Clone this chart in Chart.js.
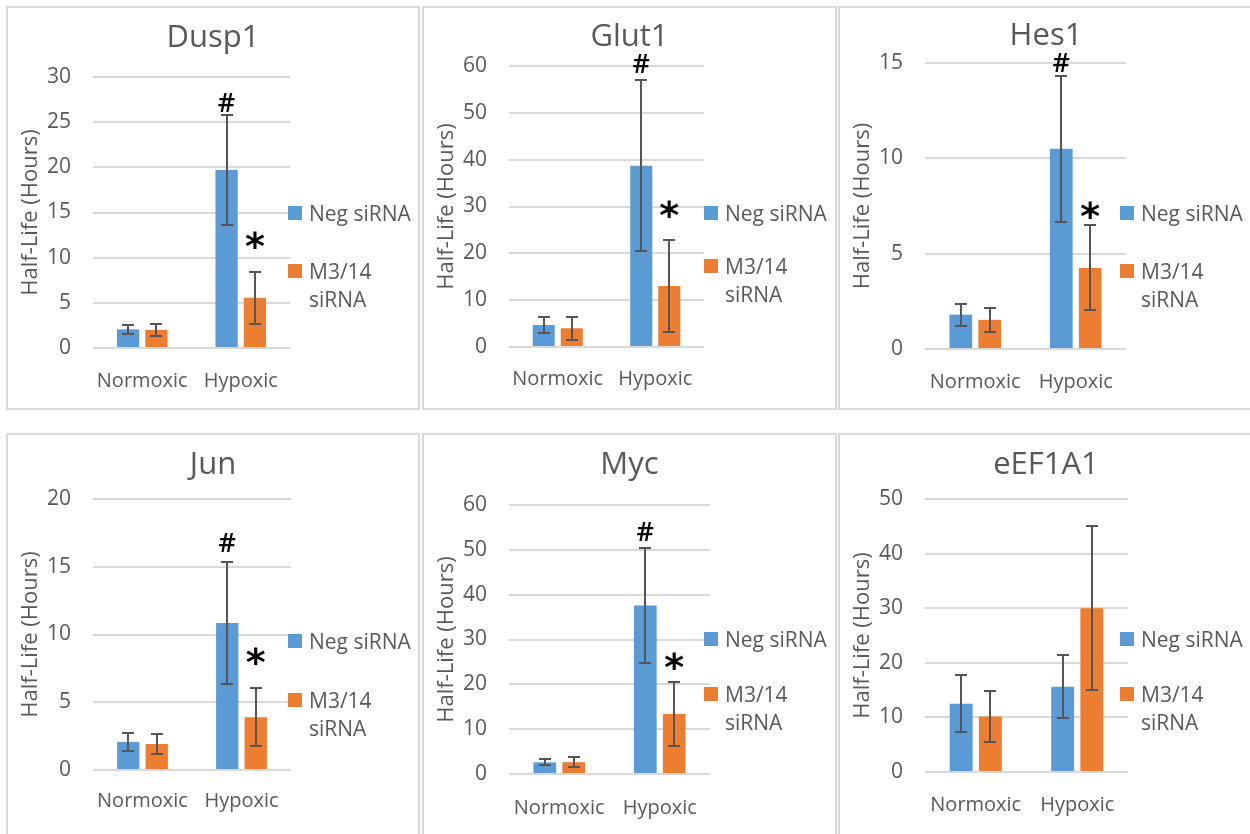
<!DOCTYPE html>
<html>
<head>
<meta charset="utf-8">
<script src="https://cdn.jsdelivr.net/npm/chart.js@4.4.1/dist/chart.umd.min.js"></script>
<style>
  html, body { margin: 0; padding: 0; background: #fff; width: 1250px; height: 834px; overflow: hidden; }
  .panel { position: absolute; border: 2px solid #d9d9d9; box-sizing: content-box; overflow: hidden; }
  .panel canvas { display: block; }
</style>
</head>
<body>
<script>
// ---- data ----
const categories = ['Normoxic', 'Hypoxic'];
const seriesLabels = ['Neg siRNA', 'M3/14 siRNA'];
const geneNames = ['Dusp1', 'Glut1', 'Hes1', 'Jun', 'Myc', 'eEF1A1'];

// mean half-life in hours [Normoxic, Hypoxic] and error-bar half widths
const dusp1Neg = [2.07, 19.7];    const dusp1NegErr = [0.5, 6.1];
const dusp1M314 = [2.0, 5.55];    const dusp1M314Err = [0.68, 2.85];
const glut1Neg = [4.7, 38.7];     const glut1NegErr = [1.8, 18.3];
const glut1M314 = [4.0, 13.0];    const glut1M314Err = [2.4, 9.8];
const hes1Neg = [1.8, 10.5];      const hes1NegErr = [0.58, 3.84];
const hes1M314 = [1.53, 4.25];    const hes1M314Err = [0.63, 2.23];
const junNeg = [2.07, 10.85];     const junNegErr = [0.66, 4.5];
const junM314 = [1.92, 3.9];      const junM314Err = [0.74, 2.12];
const mycNeg = [2.6, 37.6];       const mycNegErr = [0.67, 12.9];
const mycM314 = [2.64, 13.4];     const mycM314Err = [1.15, 7.1];
const eef1a1Neg = [12.5, 15.6];   const eef1a1NegErr = [5.2, 5.75];
const eef1a1M314 = [10.15, 30.0]; const eef1a1M314Err = [4.65, 15.0];

// y-axis ranges (min 0)
const yMax = [30, 60, 15, 20, 60, 50];
const yStep = [5, 10, 5, 5, 10, 10];

// significance symbols shown above the hypoxic bars (series index, or null)
const hashSeries = [0, 0, 0, 0, 0, null];
const starSeries = [1, 1, 1, 1, 1, null];

const negValues = [dusp1Neg, glut1Neg, hes1Neg, junNeg, mycNeg, eef1a1Neg];
const negErrors = [dusp1NegErr, glut1NegErr, hes1NegErr, junNegErr, mycNegErr, eef1a1NegErr];
const m314Values = [dusp1M314, glut1M314, hes1M314, junM314, mycM314, eef1a1M314];
const m314Errors = [dusp1M314Err, glut1M314Err, hes1M314Err, junM314Err, mycM314Err, eef1a1M314Err];

// ---- layout / style ----
const BLUE = '#5B9BD5';
const ORANGE = '#ED7D31';
const TEXT = '#595959';
const GRID = '#d9d9d9';
const FONT = '"Open Sans", "DejaVu Sans", sans-serif';

const frames = [
  { left: 6,   top: 6,   w: 410, h: 400, titleY: 27.5, plotTop: 69, padRight: 128, xAxisH: 60, labelPad: 13, legendY: [205, 263],   gaps: [12, 32] },
  { left: 422, top: 6,   w: 411, h: 400, titleY: 27,   plotTop: 58, padRight: 131, xAxisH: 61, labelPad: 12, legendY: [205, 258],   gaps: [17, 31] },
  { left: 838, top: 6,   w: 412, h: 400, titleY: 26,   plotTop: 55, padRight: 126, xAxisH: 59, labelPad: 13, legendY: [205, 263],   gaps: [13, 15] },
  { left: 6,   top: 433, w: 410, h: 400, titleY: 28,   plotTop: 64, padRight: 127, xAxisH: 65, labelPad: 11, legendY: [206, 264.5], gaps: [20, 32] },
  { left: 422, top: 433, w: 411, h: 400, titleY: 28,   plotTop: 70, padRight: 125, xAxisH: 61, labelPad: 14, legendY: [204, 258.5], gaps: [16, 21] },
  { left: 838, top: 433, w: 412, h: 400, titleY: 28,   plotTop: 64, padRight: 124, xAxisH: 63, labelPad: 13, legendY: [204, 258.5], gaps: [0, 0] }
];

function centeredText(ctx, text, x, cy) {
  const m = ctx.measureText(text);
  const a = m.actualBoundingBoxAscent, d = m.actualBoundingBoxDescent;
  ctx.fillText(text, x, cy + (a - d) / 2);
}

function wrapWords(ctx, text, maxW) {
  const words = text.split(' ');
  const lines = [];
  let cur = '';
  words.forEach(w => {
    const t = cur ? cur + ' ' + w : w;
    if (cur && ctx.measureText(t).width > maxW) { lines.push(cur); cur = w; } else { cur = t; }
  });
  if (cur) lines.push(cur);
  return lines;
}

// panel title, error bars, significance symbols and the side legend
const panelDecor = {
  id: 'panelDecor',
  afterDatasetsDraw(chart, args, opts) {
    const ctx = chart.ctx;
    const y = chart.scales.y;
    ctx.save();

    // title centred over the whole panel
    ctx.fillStyle = TEXT;
    ctx.textAlign = 'center';
    ctx.textBaseline = 'alphabetic';
    ctx.font = '31px ' + FONT;
    const tm = ctx.measureText('D');
    ctx.fillText(opts.title, chart.width / 2, opts.titleY + tm.actualBoundingBoxAscent / 2);

    // error bars
    chart.data.datasets.forEach((ds, i) => {
      const meta = chart.getDatasetMeta(i);
      meta.data.forEach((bar, j) => {
        const v = ds.data[j], e = ds.errors[j];
        const yt = Math.round(y.getPixelForValue(v + e));
        const yb = Math.round(y.getPixelForValue(v - e));
        const x = Math.round(bar.x);
        ctx.strokeStyle = '#555555';
        ctx.lineWidth = 2;
        ctx.beginPath();
        ctx.moveTo(x, yt); ctx.lineTo(x, yb);
        ctx.moveTo(x - 6, yt); ctx.lineTo(x + 6, yt);
        ctx.moveTo(x - 6, yb); ctx.lineTo(x + 6, yb);
        ctx.stroke();
      });
    });

    // symbols
    (opts.marks || []).forEach(mk => {
      if (mk.series === null) return;
      const ds = chart.data.datasets[mk.series];
      const bar = chart.getDatasetMeta(mk.series).data[mk.cat];
      const top = y.getPixelForValue(ds.data[mk.cat] + ds.errors[mk.cat]);
      ctx.fillStyle = '#000';
      ctx.textAlign = 'center';
      ctx.textBaseline = 'alphabetic';
      ctx.font = mk.font;
      centeredText(ctx, mk.text, bar.x, top - mk.gap);
    });

    // legend
    ctx.font = '21px ' + FONT;
    ctx.textAlign = 'left';
    ctx.textBaseline = 'alphabetic';
    const capH = ctx.measureText('N').actualBoundingBoxAscent;
    chart.data.datasets.forEach((ds, i) => {
      const cy = opts.legendY[i];
      ctx.fillStyle = ds.backgroundColor;
      ctx.fillRect(opts.legendX, Math.round(cy - 7), 14, 14);
      ctx.fillStyle = TEXT;
      const lines = wrapWords(ctx, ds.label, 110);
      lines.forEach((ln, k) => ctx.fillText(ln, opts.legendX + 21, cy + capH / 2 + k * 28));
    });
    ctx.restore();
  }
};

geneNames.forEach((gene, p) => {
  const f = frames[p];
  const wrap = document.createElement('div');
  wrap.className = 'panel';
  wrap.style.left = f.left + 'px';
  wrap.style.top = f.top + 'px';
  wrap.style.width = f.w + 'px';
  wrap.style.height = f.h + 'px';
  const canvas = document.createElement('canvas');
  canvas.width = f.w; canvas.height = f.h;
  wrap.appendChild(canvas);
  document.body.appendChild(wrap);

  const marks = [
    { text: '#', series: hashSeries[p], cat: 1, gap: f.gaps[0], font: '600 27px ' + FONT },
    { text: '*', series: starSeries[p], cat: 1, gap: f.gaps[1], font: 'bold 38px "DejaVu Sans", sans-serif' }
  ];

  new Chart(canvas, {
    type: 'bar',
    data: {
      labels: categories,
      datasets: [
        { label: seriesLabels[0], data: negValues[p], errors: negErrors[p], backgroundColor: BLUE },
        { label: seriesLabels[1], data: m314Values[p], errors: m314Errors[p], backgroundColor: ORANGE }
      ]
    },
    options: {
      responsive: false,
      animation: false,
      devicePixelRatio: 1,
      categoryPercentage: 0.575,
      barPercentage: 0.785,
      layout: { padding: { top: f.plotTop, left: 0, bottom: 0, right: f.padRight } },
      plugins: {
        legend: { display: false },
        tooltip: { enabled: false },
        title: { display: false },
        panelDecor: { title: gene, titleY: f.titleY, marks: marks, legendX: 280, legendY: f.legendY }
      },
      scales: {
        x: {
          grid: { display: false },
          border: { display: false },
          ticks: { color: TEXT, font: { family: FONT, size: 20 }, padding: f.labelPad, maxRotation: 0 },
          afterFit(s) { s.height = f.xAxisH; }
        },
        y: {
          min: 0,
          max: yMax[p],
          grid: { color: GRID, lineWidth: 2, drawTicks: false },
          border: { display: false },
          ticks: { stepSize: yStep[p], color: TEXT, font: { family: FONT, size: 21 }, padding: 22 },
          title: {
            display: true,
            text: 'Half-Life (Hours)',
            color: TEXT,
            font: { family: FONT, size: 22, lineHeight: 1.2 },
            padding: { top: 10, bottom: 0 }
          },
          afterFit(s) { s.width = 85; }
        }
      }
    },
    plugins: [panelDecor]
  });
});
</script>
</body>
</html>
